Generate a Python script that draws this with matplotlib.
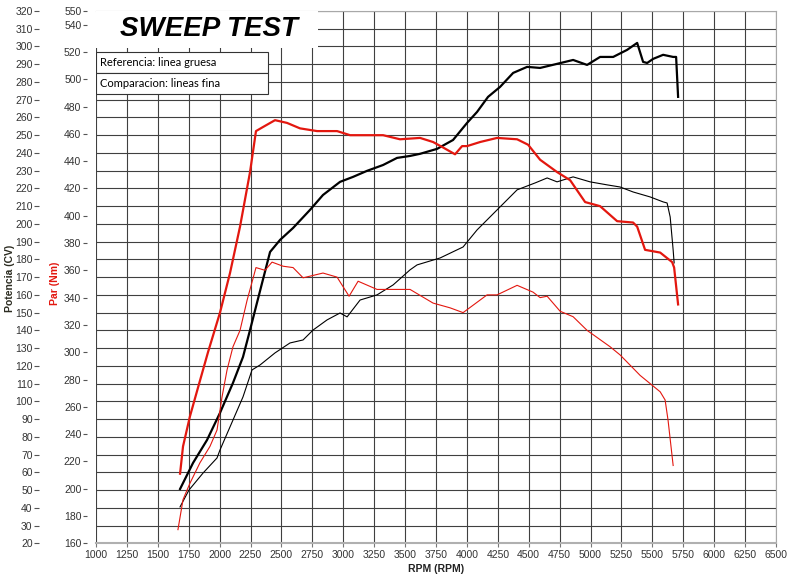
import matplotlib
matplotlib.use('Agg')
import matplotlib.pyplot as plt
from matplotlib.patches import Rectangle

plt.rcParams['font.family'] = ['Liberation Sans Narrow', 'Liberation Sans', 'DejaVu Sans']

# Par referencia (linea gruesa, roja)
rpm_par_ref = [1680, 1704, 1760, 1825, 1906, 2003, 2084, 2165, 2246, 2294, 2351, 2448, 2545, 2650,
               2788, 2950, 3055, 3322, 3459, 3621, 3726, 3807, 3904, 3961, 4001, 4107, 4244, 4406,
               4495, 4592, 4729, 4835, 4956, 5077, 5215, 5344, 5377, 5441, 5563, 5660, 5676, 5708]
par_ref = [211, 231, 253, 274, 300, 329, 358, 392, 432, 462, 465, 470, 468, 464,
           462, 462, 459, 459, 456, 457, 454, 450, 445, 451, 451, 454, 457, 456,
           452, 441, 432, 426, 410, 407, 396, 395, 392, 375, 373, 366, 362, 335]

# Potencia referencia (linea gruesa, negra)
rpm_cv_ref = [1680, 1785, 1898, 2003, 2108, 2189, 2246, 2302, 2408, 2489, 2594, 2731, 2836, 2974,
              3079, 3192, 3322, 3435, 3540, 3621, 3759, 3888, 4001, 4082, 4171, 4268, 4374, 4487,
              4592, 4729, 4859, 4972, 5077, 5183, 5296, 5377, 5425, 5458, 5506, 5587, 5668, 5692, 5708]
cv_ref = [50.6, 65.3, 78.2, 93.5, 110.4, 125, 140.2, 155.5, 184.2, 191, 197.7, 207.9, 216.3, 223.7,
          226.5, 229.9, 233.2, 237.2, 238.3, 239.5, 242.3, 247.3, 256.9, 263.1, 271.6, 277.2, 285.1, 288.5,
          287.9, 290.2, 292.4, 289.6, 294.1, 294.1, 298.1, 302, 291.3, 290.7, 293, 295.3, 294.1, 294.1, 271.6]

# Par comparacion (linea fina, roja)
rpm_par_cmp = [1663, 1704, 1760, 1841, 1922, 1979, 2019, 2060, 2108, 2165, 2222, 2294, 2367, 2424,
               2513, 2594, 2675, 2836, 2950, 3047, 3120, 3273, 3459, 3540, 3726, 3864, 3969, 4163,
               4244, 4406, 4535, 4592, 4649, 4754, 4859, 4972, 5158, 5239, 5401, 5563, 5603, 5627, 5668]
par_cmp = [170, 192, 204, 219, 231, 243, 267, 287, 304, 316, 338, 362, 360, 366,
           363, 362, 354.5, 358, 355, 341, 352, 346, 346, 346, 336, 332.5, 329, 342,
           342, 349, 344, 340, 341, 330, 326, 316, 304, 298, 283, 271, 265, 250, 217]

# Potencia comparacion (linea fina, negra)
rpm_cv_cmp = [1680, 1752, 1866, 1979, 2003, 2084, 2189, 2262, 2327, 2448, 2569, 2675, 2756, 2869,
              2974, 3031, 3136, 3273, 3403, 3540, 3597, 3783, 3969, 4082, 4244, 4406, 4552, 4649,
              4729, 4859, 4996, 5134, 5239, 5344, 5482, 5587, 5619, 5644, 5668, 5676]
cv_cmp = [40.5, 50, 59.6, 68.1, 72.6, 85.6, 102.5, 117.7, 120.5, 127.3, 132.9, 134.6, 140.2, 145.9,
          149.8, 147.6, 157.1, 160, 165.6, 174.1, 176.9, 180.8, 187, 196.6, 207.9, 219.2, 223.1, 225.9,
          223.7, 226.5, 223.7, 222, 220.8, 218, 215.2, 212.4, 211.8, 203.9, 185.3, 178]

xticks = list(range(1000, 6501, 250))
cv_ticks = list(range(20, 321, 10))
nm_ticks = [550] + list(range(540, 159, -20))

rojo = '#e3170f'
grid_c = '#404040'
lbl_c = '#333333'

fig = plt.figure(figsize=(7.88, 5.81), dpi=100)
ax = fig.add_axes([0.1218, 0.0649, 0.8630, 0.9162])
ax2 = ax.twinx()

ax.set_xlim(1000, 6500)
ax.set_ylim(20, 320)
ax2.set_ylim(160, 550)

ax.set_xticks(xticks)
ax.set_yticks(cv_ticks)
ax2.set_yticks(nm_ticks)
ax.grid(True, color=grid_c, linewidth=0.8)
ax.set_axisbelow(True)

# ejes a la izquierda, separados del grafico
ax.spines['left'].set_position(('outward', 41))
ax.spines['left'].set_visible(False)
ax.spines['top'].set_color('#a8a8a8')
ax.spines['right'].set_color('#a8a8a8')
ax.spines['bottom'].set_color('#b0b0b0')
ax.spines['bottom'].set_linewidth(1.5)
ax.tick_params(axis='y', direction='out', length=3.6, width=0.8, color='#555555',
               pad=1, labelsize=7.5, labelcolor=lbl_c)
ax.tick_params(axis='x', direction='out', length=3, width=0.8, color='#777777',
               pad=2, labelsize=7.5, labelcolor=lbl_c)

for s in ax2.spines.values():
    s.set_visible(False)
ax2.yaxis.set_ticks_position('left')
ax2.yaxis.set_label_position('left')
ax2.spines['left'].set_position(('outward', 6.5))
ax2.tick_params(axis='y', direction='out', length=3, width=0.8, color='#555555',
                pad=1, labelsize=7.5, labelcolor=lbl_c)

ax.plot(rpm_cv_cmp, cv_cmp, color='black', linewidth=0.8, zorder=3)
ax.plot(rpm_cv_ref, cv_ref, color='black', linewidth=1.6, zorder=4)
ax2.plot(rpm_par_cmp, par_cmp, color=rojo, linewidth=0.8, zorder=3)
ax2.plot(rpm_par_ref, par_ref, color=rojo, linewidth=1.6, zorder=4)

ax.set_xlabel('RPM (RPM)', fontsize=7.5, fontweight='bold', color='#222222', labelpad=3)
fig.text(0.0127, 0.5215, 'Potencia (CV)', rotation=90, ha='center', va='center',
         fontsize=7.5, fontweight='bold', color='#2b2b20')
fig.text(0.0698, 0.513, 'Par (Nm)', rotation=90, ha='center', va='center',
         fontsize=7.5, fontweight='bold', color=rojo)

# cuadro del titulo y leyenda
ax2.add_patch(Rectangle((0, 0.931), 0.326, 0.069, transform=ax2.transAxes,
                        facecolor='white', edgecolor='none', zorder=5))
ax2.text(0.035, 0.966, 'SWEEP TEST', transform=ax2.transAxes, ha='left', va='center',
         fontsize=20, fontweight='bold', fontstyle='italic', family='Liberation Sans', zorder=6)
ax2.add_patch(Rectangle((0, 0.8835), 0.253, 0.0395, transform=ax2.transAxes,
                        facecolor='white', edgecolor='#333333', linewidth=0.8, zorder=5))
ax2.add_patch(Rectangle((0, 0.8441), 0.253, 0.0394, transform=ax2.transAxes,
                        facecolor='white', edgecolor='#333333', linewidth=0.8, zorder=5))
ax2.text(0.006, 0.9033, 'Referencia: linea gruesa', transform=ax2.transAxes, ha='left',
         va='center', fontsize=8, family='Lato', zorder=6)
ax2.text(0.006, 0.8638, 'Comparacion: lineas fina', transform=ax2.transAxes, ha='left',
         va='center', fontsize=8, family='Lato', zorder=6)

fig.savefig('out.png', dpi=100)
